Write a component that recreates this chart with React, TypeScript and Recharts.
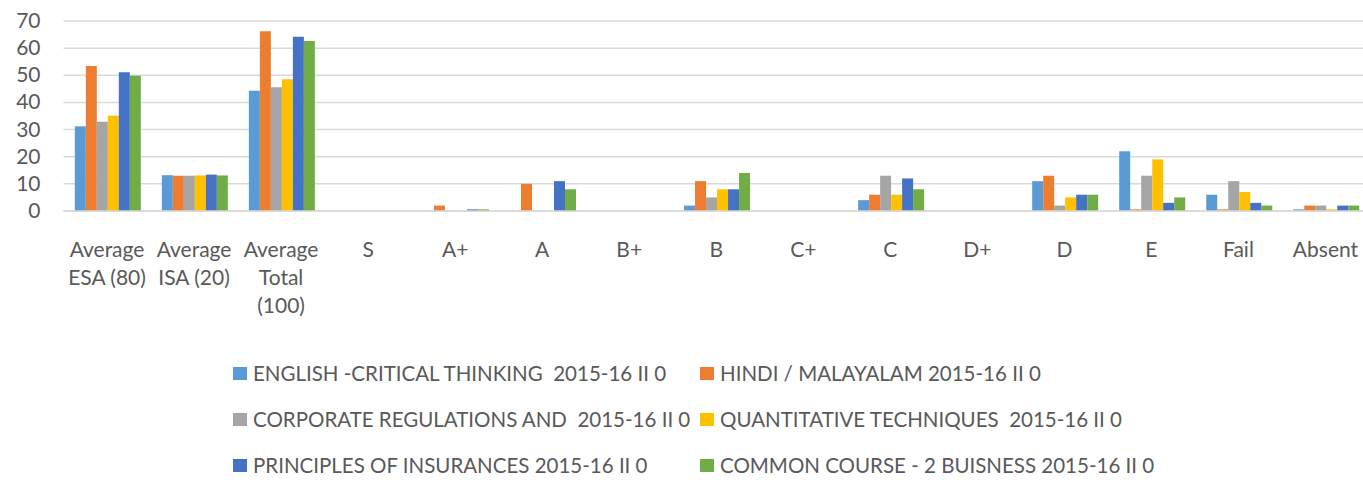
import React from "react";
import { BarChart, Bar, XAxis, YAxis, CartesianGrid } from "recharts";

const categories = [
  "Average\nESA (80)",
  "Average\nISA (20)",
  "Average\nTotal\n(100)",
  "S",
  "A+",
  "A",
  "B+",
  "B",
  "C+",
  "C",
  "D+",
  "D",
  "E",
  "Fail",
  "Absent",
];

const english = [31.2, 13.2, 44.3, 0, 0, 0, 0, 2, 0, 4, 0, 11, 22, 6, 0.6];
const hindi = [53.4, 13.0, 66.2, 0, 2, 10, 0, 11, 0, 6, 0, 13, 0.6, 0.6, 2];
const corporate = [32.9, 13.0, 45.6, 0, 0, 0, 0, 5, 0, 13, 0, 2, 13, 11, 2];
const quantitative = [35.1, 13.1, 48.5, 0, 0, 0, 0, 8, 0, 6, 0, 5, 19, 7, 0.6];
const insurance = [51.1, 13.4, 64.2, 0, 0.6, 11, 0, 8, 0, 12, 0, 6, 3, 3, 2];
const common = [49.8, 13.1, 62.6, 0, 0.6, 8, 0, 14, 0, 8, 0, 6, 5, 2, 2];

const yTicks = [0, 10, 20, 30, 40, 50, 60, 70];

const series = [
  { key: "english", name: "ENGLISH -CRITICAL THINKING  2015-16 II 0", color: "#5b9bd5", values: english },
  { key: "hindi", name: "HINDI / MALAYALAM 2015-16 II 0", color: "#ed7d31", values: hindi },
  { key: "corporate", name: "CORPORATE REGULATIONS AND  2015-16 II 0", color: "#a5a5a5", values: corporate },
  { key: "quantitative", name: "QUANTITATIVE TECHNIQUES  2015-16 II 0", color: "#ffc000", values: quantitative },
  { key: "insurance", name: "PRINCIPLES OF INSURANCES 2015-16 II 0", color: "#4472c4", values: insurance },
  { key: "common", name: "COMMON COURSE - 2 BUISNESS 2015-16 II 0", color: "#70ad47", values: common },
];

const data = categories.map((label, i) => {
  const row: Record<string, string | number> = { label };
  series.forEach((s) => {
    row[s.key] = s.values[i];
  });
  return row;
});

const FONT = "Lato, 'Open Sans', sans-serif";
const TEXT = "#595959";

function CategoryTick({ x, y, payload }: any) {
  const lines = String(payload.value).split("\n");
  return (
    <text x={x} y={y + 46} textAnchor="middle" fill={TEXT} fontSize={21} fontFamily={FONT}>
      {lines.map((line, i) => (
        <tspan key={i} x={x} dy={i === 0 ? 0 : 28}>
          {line}
        </tspan>
      ))}
    </text>
  );
}

function ValueTick({ x, y, payload }: any) {
  return (
    <text x={x - 23} y={y} dy={7} textAnchor="end" fill={TEXT} fontSize={21} fontFamily={FONT}>
      {payload.value}
    </text>
  );
}

export default function App() {
  return (
    <div
      style={{
        position: "fixed",
        left: 0,
        top: 0,
        width: 1363,
        height: 480,
        overflow: "hidden",
        background: "#fff",
        fontFamily: FONT,
      }}
    >
      <BarChart
        width={1369}
        height={340}
        data={data}
        margin={{ top: 21, right: 0, bottom: 0, left: 0 }}
        barCategoryGap="13%"
        barGap={0}
      >
        <CartesianGrid vertical={false} stroke="#d9d9d9" strokeWidth={1.5} />
        <XAxis
          dataKey="label"
          interval={0}
          height={129}
          axisLine={{ stroke: "#d9d9d9", strokeWidth: 1.5 }}
          tickLine={false}
          tickSize={0}
          tickMargin={0}
          tick={<CategoryTick />}
        />
        <YAxis
          width={63.5}
          domain={[0, 70]}
          ticks={yTicks}
          interval={0}
          axisLine={false}
          tickLine={false}
          tickSize={0}
          tickMargin={0}
          tick={<ValueTick />}
        />
        {series.map((s) => (
          <Bar
            key={s.key}
            dataKey={s.key}
            name={s.name}
            fill={s.color}
            isAnimationActive={false}
          />
        ))}
      </BarChart>
      {series.map((s, i) => {
        const col = i % 2;
        const row = Math.floor(i / 2);
        return (
          <div
            key={s.key}
            style={{
              position: "absolute",
              left: col === 0 ? 233 : 700,
              top: 373 + row * 46 - 14,
              height: 28,
              display: "flex",
              alignItems: "center",
              whiteSpace: "pre",
              color: TEXT,
              fontSize: 20.5,
            }}
          >
            <span
              style={{
                display: "inline-block",
                width: 14,
                height: 13,
                background: s.color,
                marginRight: 6,
              }}
            />
            {s.name}
          </div>
        );
      })}
    </div>
  );
}
